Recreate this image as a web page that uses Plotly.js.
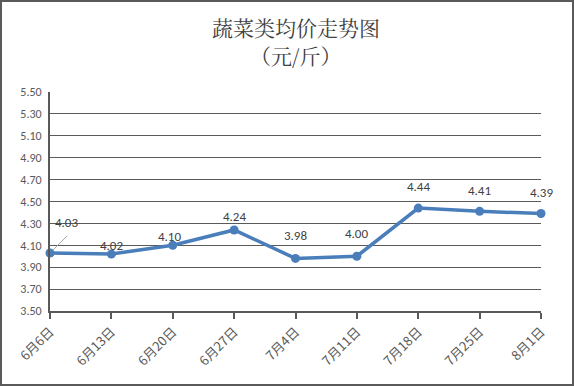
<!DOCTYPE html>
<html><head><meta charset="utf-8">
<script src="https://cdn.plot.ly/plotly-3.0.1.min.js"></script>
<style>body{margin:0;}#wrap{position:relative;width:574px;height:386px;}#frame{position:absolute;left:0;top:0;width:574px;height:386px;box-sizing:border-box;border:2px solid #5a5a5a;pointer-events:none;}</style>
</head><body>
<div id="wrap"><div id="chart" style="width:574px;height:386px;"></div><div id="frame"></div></div>
<script>
const dates = ['6月6日','6月13日','6月20日','6月27日','7月4日','7月11日','7月18日','7月25日','8月1日'];
const prices = [4.03, 4.02, 4.10, 4.24, 3.98, 4.00, 4.44, 4.41, 4.39];
const yTicks = [3.5,3.7,3.9,4.1,4.3,4.5,4.7,4.9,5.1,5.3,5.5];

// label placement (pixels) – style only
const labelDY = [30, 9, 9, 13, 23, 23, 22, 21, 21];
const labelDX = [16, 0, -3, 0, 0, 0, 0, 0, 0];

const idx = dates.map((d,i)=>i);
const font = 'Calibri, Carlito, "Noto Sans CJK SC", "Liberation Sans", sans-serif';
const titleFont = {family:'"Noto Serif CJK SC", "Noto Sans CJK SC", serif', size:21, color:'#404040'};
const labelFont = {family:font, size:13, color:'#404040'};

const trace = {
  x: idx, y: prices, type:'scatter', mode:'lines+markers',
  line:{color:'#4a7ebb', width:3.5},
  marker:{color:'#4a7ebb', size:9},
  cliponaxis:false, hoverinfo:'skip'
};

const anns = prices.map((p,i)=>({
    x:i, y:p, xref:'x', yref:'y', text:p.toFixed(2), showarrow:false,
    xanchor:'center', yanchor:'middle', yshift:labelDY[i], xshift:labelDX[i], font:labelFont
  }));
anns.push({x:0.5, y:1.297, xref:'paper', yref:'paper', text:'蔬菜类均价走势图', showarrow:false, xanchor:'center', yanchor:'middle', font:titleFont});
anns.push({x:0.5, y:1.169, xref:'paper', yref:'paper', text:'（元/斤）', showarrow:false, xanchor:'center', yanchor:'middle', font:titleFont});

const layout = {
  width:574, height:386,
  margin:{l:50, r:33, t:92, b:75},
  paper_bgcolor:'#ffffff', plot_bgcolor:'#ffffff',
  showlegend:false,
  xaxis:{range:[0,8], tickmode:'array', tickvals:idx, ticktext:dates, tickangle:-45,
    showgrid:false, zeroline:false, showline:true, linecolor:'#595959', linewidth:2,
    ticks:'outside', ticklen:6, tickwidth:2, tickcolor:'#595959',
    tickfont:{family:'"Noto Sans CJK SC", sans-serif', size:13, color:'#595959'}},
  yaxis:{range:[3.5,5.5], tickmode:'array', tickvals:yTicks, ticktext:yTicks.map(v=>v.toFixed(2)),
    showgrid:true, gridcolor:'#5a5a5a', gridwidth:1, zeroline:false,
    showline:true, linecolor:'#595959', linewidth:2, ticks:'', ticklabelstandoff:4,
    tickfont:{family:font, size:12, color:'#595959'}},
  shapes:[{type:'line', xref:'x', yref:'y', xsizemode:'pixel', ysizemode:'pixel',
    xanchor:0, yanchor:prices[0], x0:3, y0:3, x1:17, y1:17,
    line:{color:'#a6a6a6', width:1}}],
  annotations: anns
};
Plotly.newPlot('chart',[trace],layout,{displayModeBar:false, staticPlot:true});
</script>
</body></html>
